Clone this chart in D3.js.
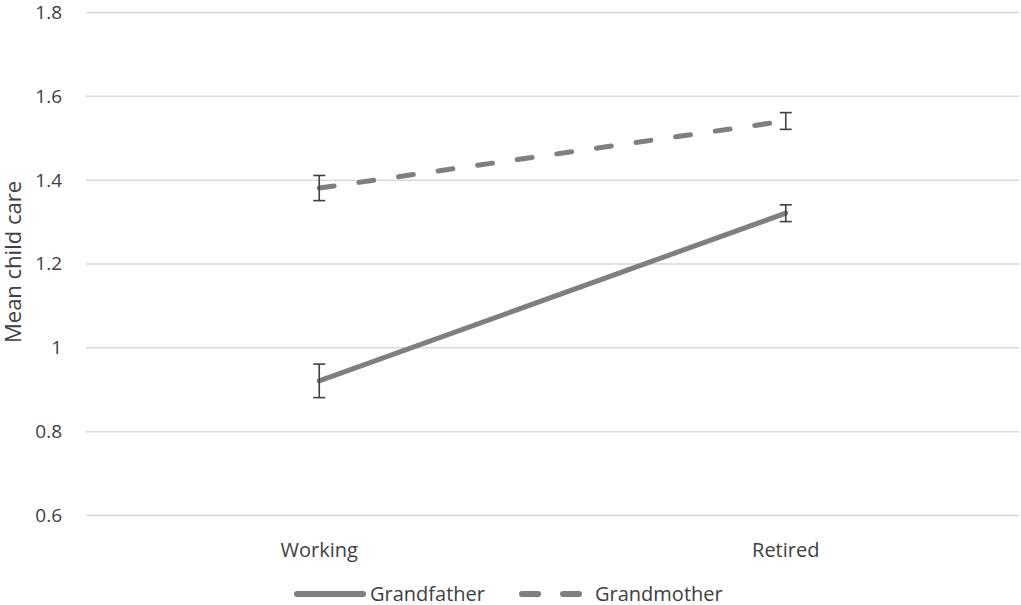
<!DOCTYPE html>
<html>
<head>
<meta charset="utf-8">
<script src="https://cdn.jsdelivr.net/npm/d3@7/dist/d3.min.js"></script>
<style>
  html, body { margin: 0; padding: 0; background: #fff; }
  svg { display: block; }
  text { font-family: "Open Sans", "Noto Sans", sans-serif; fill: #404040; }
</style>
</head>
<body>
<svg id="chart" width="1021" height="605"></svg>
<script>
const categories = ["Working", "Retired"];
const seriesNames = ["Grandfather", "Grandmother"];
const grandfatherMean = [0.92, 1.32];
const grandfatherLow  = [0.88, 1.30];
const grandfatherHigh = [0.96, 1.34];
const grandmotherMean = [1.38, 1.54];
const grandmotherLow  = [1.35, 1.52];
const grandmotherHigh = [1.41, 1.56];
const yTicks = [0.6, 0.8, 1, 1.2, 1.4, 1.6, 1.8];
const yTitle = "Mean child care";

(function () {
const series = [
  { name: seriesNames[0], mean: grandfatherMean, low: grandfatherLow, high: grandfatherHigh, dash: null },
  { name: seriesNames[1], mean: grandmotherMean, low: grandmotherLow, high: grandmotherHigh, dash: "15,25" }
];

const svg = d3.select("#chart");
const pLeft = 86, pRight = 1019, pTop = 12, pBottom = 515;

const x = d3.scaleBand().domain(categories).range([pLeft, pRight]);
const cx = c => x(c) + x.bandwidth() / 2;
const y = d3.scaleLinear().domain([0.6, 1.8]).range([pBottom, pTop]);

// gridlines + y tick labels
const yAxis = d3.axisLeft(y).tickValues(yTicks).tickSize(-(pRight - pLeft)).tickPadding(24).tickFormat(d => String(d));
const gy = svg.append("g").attr("transform", `translate(${pLeft},0)`).call(yAxis);
gy.select(".domain").remove();
gy.selectAll(".tick line").attr("stroke", "#d9d9d9").attr("stroke-width", 1.5);
gy.selectAll(".tick text").style("font-size", "19px").attr("fill", "#404040").attr("dy", "0.34em");

// x axis labels
const xAxis = d3.axisBottom(x).tickSize(0).tickPadding(28);
const gx = svg.append("g").attr("transform", `translate(0,${pBottom})`).call(xAxis);
gx.select(".domain").remove();
gx.selectAll(".tick text").style("font-size", "20px").attr("fill", "#404040");

// y title
svg.append("text")
  .attr("transform", `translate(21,262) rotate(-90)`)
  .attr("text-anchor", "middle")
  .style("font-size", "22px")
  .text(yTitle);

// lines
const line = d3.line().x(d => cx(d.c)).y(d => y(d.v));
series.forEach(s => {
  const pts = categories.map((c, i) => ({ c, v: s.mean[i] }));
  svg.append("path")
    .datum(pts)
    .attr("d", line)
    .attr("fill", "none")
    .attr("stroke", "#7f7f7f")
    .attr("stroke-width", 5)
    .attr("stroke-linecap", "round")
    .attr("stroke-dasharray", s.dash);
});

// error bars
const capW = 6;
series.forEach(s => {
  categories.forEach((c, i) => {
    const g = svg.append("g").attr("stroke", "#404040").attr("stroke-width", 1.6);
    g.append("line").attr("x1", cx(c)).attr("x2", cx(c)).attr("y1", y(s.low[i])).attr("y2", y(s.high[i]));
    g.append("line").attr("x1", cx(c) - capW).attr("x2", cx(c) + capW).attr("y1", y(s.low[i])).attr("y2", y(s.low[i]));
    g.append("line").attr("x1", cx(c) - capW).attr("x2", cx(c) + capW).attr("y1", y(s.high[i])).attr("y2", y(s.high[i]));
  });
});

// legend
const legendY = 594;
const legendItems = [
  { s: series[0], x0: 297, x1: 363, tx: 370 },
  { s: series[1], x0: 522, x1: 583, tx: 595 }
];
legendItems.forEach(it => {
  svg.append("line")
    .attr("x1", it.x0).attr("x2", it.x1).attr("y1", legendY).attr("y2", legendY)
    .attr("stroke", "#7f7f7f").attr("stroke-width", 6).attr("stroke-linecap", "round")
    .attr("stroke-dasharray", it.s.dash ? "16,25" : null);
  svg.append("text")
    .attr("x", it.tx).attr("y", legendY).attr("dy", "0.35em")
    .style("font-size", "20px")
    .text(it.s.name);
});
})();
</script>
</body>
</html>
